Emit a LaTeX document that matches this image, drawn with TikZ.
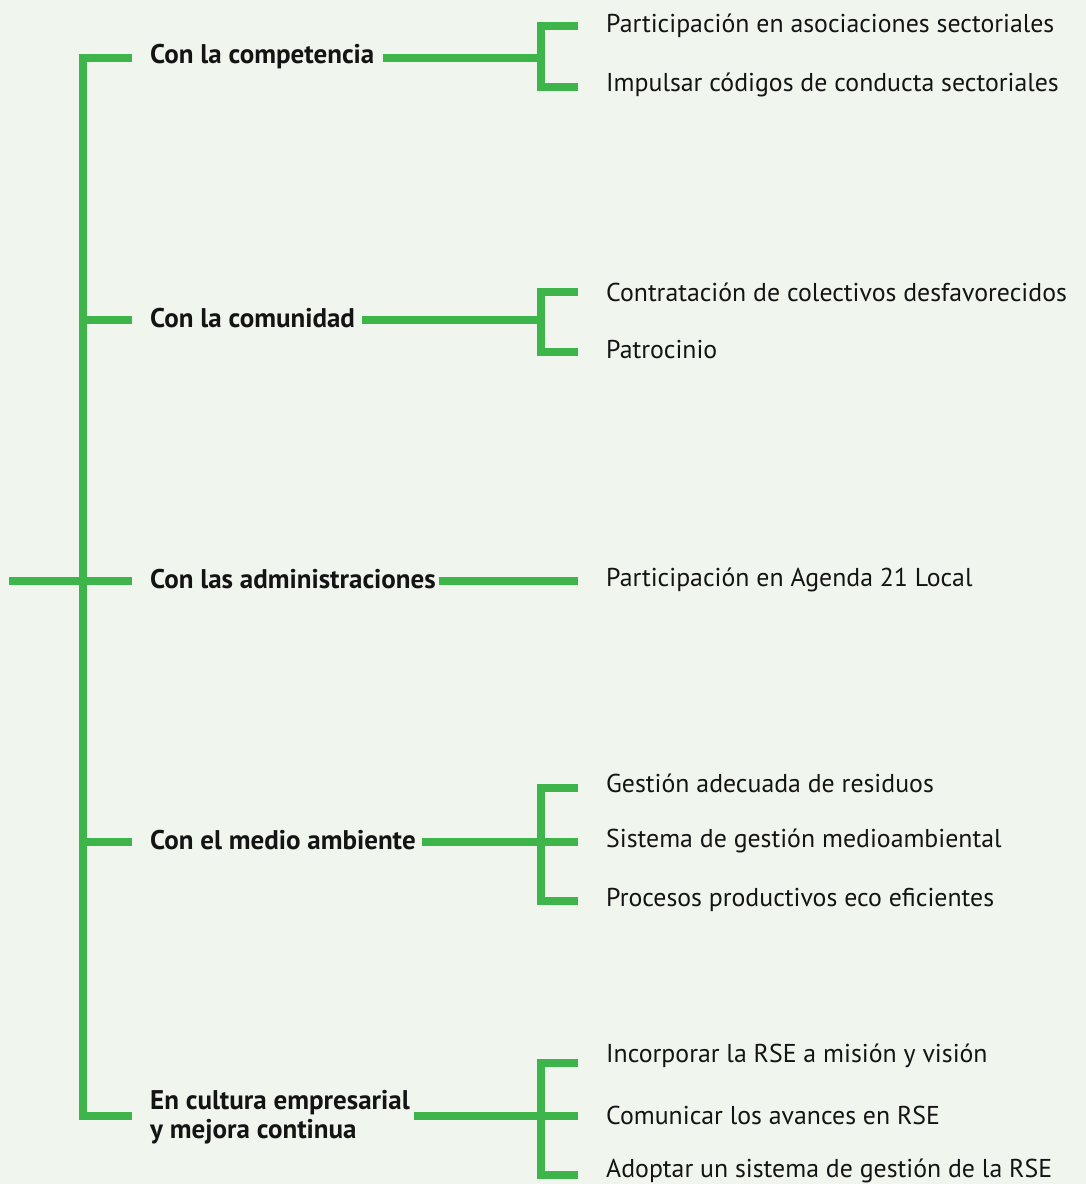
\documentclass[tikz,border=0pt]{standalone}
\usepackage{fontspec}
\setmainfont{PT Sans}
\usepackage{xcolor}
\usepackage{tikz}
\definecolor{verde}{RGB}{61,181,74}
\definecolor{fondo}{RGB}{240,245,238}
\definecolor{tinta}{RGB}{20,20,20}
\tikzset{
  rama/.style={draw=verde, line width=8pt, miter limit=10},
  area/.style={font=\bfseries\fontsize{27}{29}\selectfont, text=tinta, anchor=west, inner xsep=0pt, inner ysep=0pt, align=left},
  accion/.style={font=\fontsize{25.8}{29}\selectfont, text=tinta, anchor=west, inner xsep=28pt, inner ysep=0pt}
}
\begin{document}
\begin{tikzpicture}[x=1pt,y=-1pt]
        \fill[fondo] (0,0) rectangle (1086,1184);
        \useasboundingbox (0,0) rectangle (1086,1184);

        % eje principal
        \coordinate (raiz) at (9,581);
        \coordinate (e1) at (83,58);
        \coordinate (e2) at (83,320);
        \coordinate (e3) at (83,581);
        \coordinate (e4) at (83,842);
        \coordinate (e5) at (83,1116);

        \node[area] (comp) at (150,57) {Con la competencia};
        \node[area] (comu) at (150,318) {Con la comunidad};
        \node[area] (admi) at (150,579) {Con las administraciones};
        \node[area] (medi) at (150,840) {Con el medio ambiente};
        \node[area] (cult) at (150,1117) {En cultura empresarial\\y mejora continua};

        \draw[rama] ([xshift=-18pt]comp.west |- e1) -- (e1) -- (e5) -- ([xshift=-18pt]cult.west |- e5);
        \draw[rama] (raiz) -- ([xshift=-18pt]admi.west |- e3);
        \draw[rama] (e2) -- ([xshift=-18pt]comu.west |- e2);
        \draw[rama] (e4) -- ([xshift=-18pt]medi.west |- e4);

        % acciones
        \node[accion] (c1) at (578,26) {Participación en asociaciones sectoriales};
        \node[accion] (c2) at (578,85) {Impulsar códigos de conducta sectoriales};
        \node[accion] (m1) at (578,292) {Contratación de colectivos desfavorecidos};
        \node[accion] (m2) at (578,350) {Patrocinio};
        \node[accion] (a1) at (578,580) {Participación en Agenda 21 Local};
        \node[accion] (d1) at (578,783) {Gestión adecuada de residuos};
        \node[accion] (d2) at (578,841) {Sistema de gestión medioambiental};
        \node[accion] (d3) at (578,900) {Procesos productivos eco eficientes};
        \node[accion] (u1) at (578,1056) {Incorporar la RSE a misión y visión};
        \node[accion] (u2) at (578,1115) {Comunicar los avances en RSE};
        \node[accion] (u3) at (578,1171) {Adoptar un sistema de gestión de la RSE};

        \coordinate (b1) at (541,58);
        \coordinate (b2) at (541,320);
        \coordinate (b4) at (541,842);
        \coordinate (b5) at (541,1116);

        \draw[rama] ([xshift=8pt]comp.east |- b1) -- (b1);
        \draw[rama] (c1.west |- 0,26) -| (b1) |- (c2.west |- 0,87);
        \draw[rama] ([xshift=7pt]comu.east |- b2) -- (b2);
        \draw[rama] (m1.west |- 0,292) -| (b2) |- (m2.west |- 0,352);
        \draw[rama] ([xshift=3pt]admi.east |- e3) -- (a1.west |- e3);
        \draw[rama] ([xshift=6pt]medi.east |- b4) -- (d2.west |- b4);
        \draw[rama] (d1.west |- 0,788) -| (b4) |- (d3.west |- 0,901);
        \draw[rama] ([xshift=4pt]cult.east |- b5) -- (u2.west |- b5);
        \draw[rama] (u1.west |- 0,1063) -| (b5) |- (u3.west |- 0,1175);
      \end{tikzpicture}
\end{document}
